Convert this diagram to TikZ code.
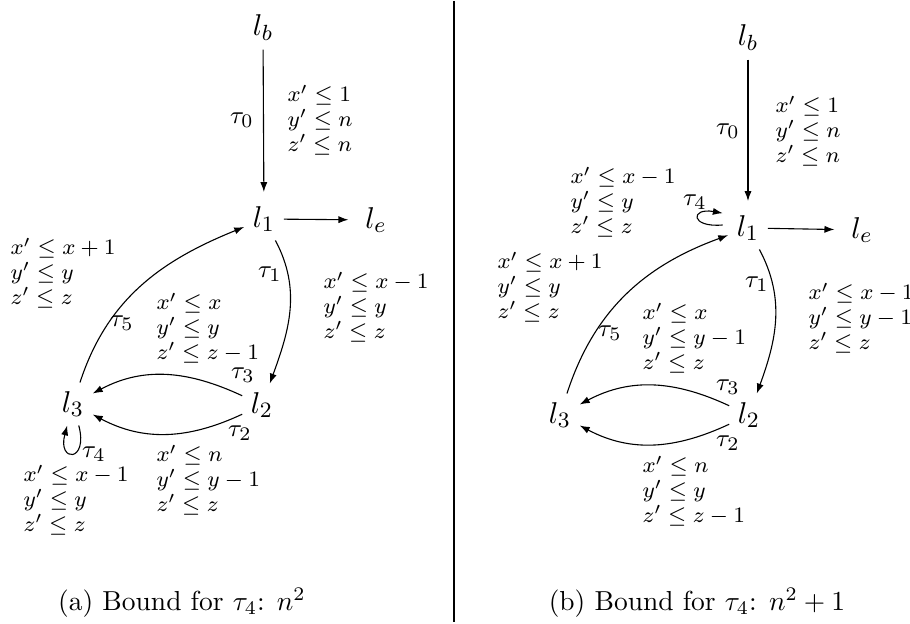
\documentclass[tikz,border=0pt]{standalone}
\usepackage{amsmath, amssymb}
\usetikzlibrary{arrows.meta}

\tikzset{
  loc/.style={font=\fontsize{11}{13}\selectfont, inner sep=3pt},
  cons/.style={font=\fontsize{8.2}{9}\selectfont, align=left, anchor=west, inner sep=0pt},
  lab/.style={font=\fontsize{9.5}{11}\selectfont, inner sep=0pt},
}

\begin{document}
\begin{tikzpicture}[x=0.01278cm,y=-0.01278cm,>={Latex[length=3.6pt,width=2.6pt]}]
\useasboundingbox (0,0) rectangle (910,624);
% (a)
\node[loc] (lb) at (263,28) {$l_b$};
\node[loc] (l1) at (264,219) {$l_1$};
\node[loc] (le) at (376,220) {$l_e$};
\node[loc] (l2) at (262,405) {$l_2$};
\node[loc] (l3) at (73,404) {$l_3$};
\draw[->,shorten >=2pt] (lb) -- (l1);
\draw[->,shorten >=3pt] (l1) -- (le);
\draw[->] (l1) to[out=-62,in=70] (l2);
\draw[->] (l2) to[out=155,in=28] (l3);
\draw[->] (l2) to[out=-155,in=-28] (l3);
\draw[->] (l3) to[out=72,in=202] (l1);
\draw[->] (l3) to[out=-75,in=-105,min distance=14pt] (l3);
\node[lab] (t0a) at (242,120) {$\tau_0$};
\node[lab] (t1a) at (270,274) {$\tau_1$};
\node[lab] (t2a) at (240,433) {$\tau_2$};
\node[lab] (t3a) at (243,375) {$\tau_3$};
\node[lab] (t4a) at (94,454) {$\tau_4$};
\node[lab] (t5a) at (122,323) {$\tau_5$};
\node[cons] (c0a) at (287,120) {$x'\leq 1$\\$y'\leq n$\\$z'\leq n$};
\node[cons] (c1a) at (323,307) {$x'\leq x-1$\\$y'\leq y$\\$z'\leq z$};
\node[cons] (c2a) at (156,480) {$x'\leq n$\\$y'\leq y-1$\\$z'\leq z$};
\node[cons] (c3a) at (156,328) {$x'\leq x$\\$y'\leq y$\\$z'\leq z-1$};
\node[cons] (c4a) at (23,500) {$x'\leq x-1$\\$y'\leq y$\\$z'\leq z$};
\node[cons] (c5a) at (10,273) {$x'\leq x+1$\\$y'\leq y$\\$z'\leq z$};
\node (capa) at (182,603) {(a) Bound for $\tau_4$: $n^2$};
% divider
\draw (454,1) -- (454,622);
% (b)
\node[loc] (lbb) at (748,38) {$l_b$};
\node[loc] (l1b) at (748,228) {$l_1$};
\node[loc] (leb) at (862,230) {$l_e$};
\node[loc] (l2b) at (749,415) {$l_2$};
\node[loc] (l3b) at (560,415) {$l_3$};
\draw[->,shorten >=2pt] (lbb) -- (l1b);
\draw[->,shorten >=3pt] (l1b) -- (leb);
\draw[->] (l1b) to[out=-62,in=70] (l2b);
\draw[->] (l2b) to[out=155,in=28] (l3b);
\draw[->] (l2b) to[out=-155,in=-28] (l3b);
\draw[->] (l3b) to[out=72,in=200] (l1b);
\draw[->,shorten <=2pt,shorten >=2pt] (l1b.170) to[out=185,in=170,min distance=14pt] (l1b.145);
\node[lab] (t0b) at (728,131) {$\tau_0$};
\node[lab] (t1b) at (757,284) {$\tau_1$};
\node[lab] (t2b) at (728,443) {$\tau_2$};
\node[lab] (t3b) at (728,387) {$\tau_3$};
\node[lab] (t4b) at (695,202) {$\tau_4$};
\node[lab] (t5b) at (610,333) {$\tau_5$};
\node[cons] (c0b) at (775,131) {$x'\leq 1$\\$y'\leq n$\\$z'\leq n$};
\node[cons] (c1b) at (808,318) {$x'\leq x-1$\\$y'\leq y-1$\\$z'\leq z$};
\node[cons] (c2b) at (642,491) {$x'\leq n$\\$y'\leq y$\\$z'\leq z-1$};
\node[cons] (c3b) at (642,338) {$x'\leq x$\\$y'\leq y-1$\\$z'\leq z$};
\node[cons] (c4b) at (570,202) {$x'\leq x-1$\\$y'\leq y$\\$z'\leq z$};
\node[cons] (c5b) at (497,287) {$x'\leq x+1$\\$y'\leq y$\\$z'\leq z$};
\node (capb) at (697,603) {(b) Bound for $\tau_4$: $n^2+1$};
\end{tikzpicture}
\end{document}
